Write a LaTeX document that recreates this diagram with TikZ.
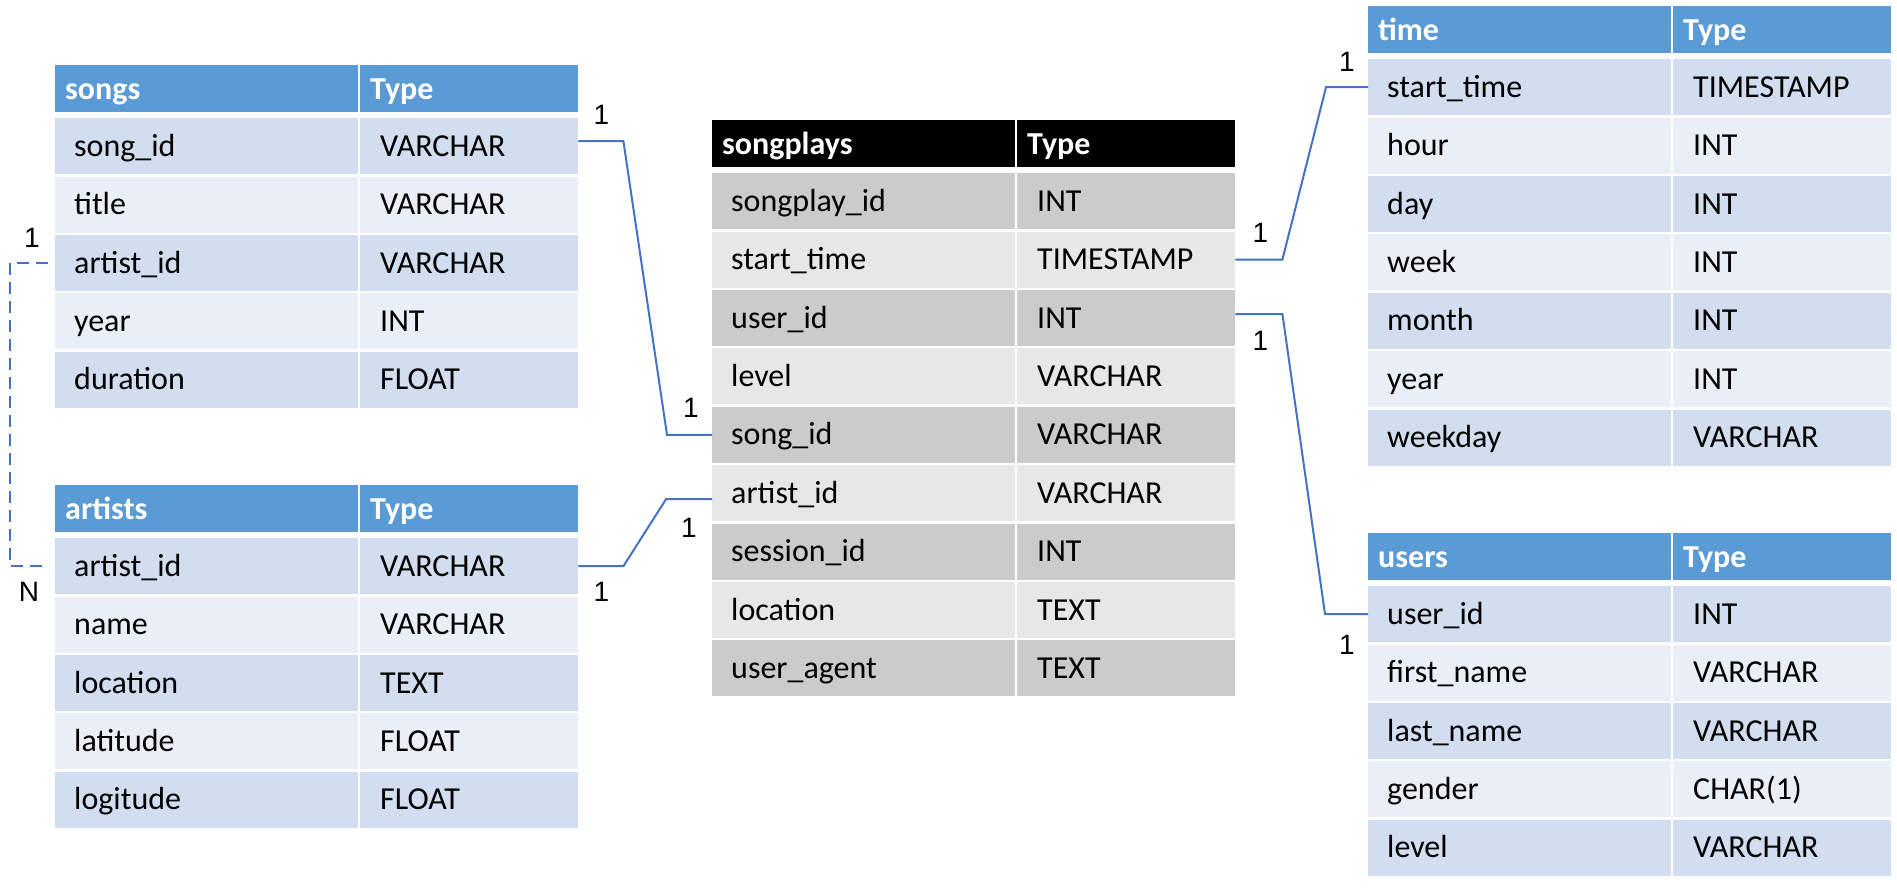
\documentclass[tikz,border=0pt]{standalone}
\usepackage{fontspec}
\setmainfont{Carlito}
\newfontfamily\cardfamily{Liberation Sans}
\usetikzlibrary{positioning}
\definecolor{bluehead}{HTML}{5B9BD5}
\definecolor{bluerow1}{HTML}{D2DEEF}
\definecolor{bluerow0}{HTML}{EAEFF7}
\definecolor{greyhead}{HTML}{000000}
\definecolor{greyrow1}{HTML}{CBCBCB}
\definecolor{greyrow0}{HTML}{E7E7E7}
\definecolor{linkblue}{HTML}{4472C4}
\tikzset{
	cell/.style={rectangle, inner sep=0pt, anchor=north west, minimum height=56pt},
	headcell/.style={cell, minimum height=47pt},
	namew/.style={minimum width=303pt},
	typew/.style={minimum width=218pt},
	celltext/.style={anchor=base west, inner sep=0pt, font=\fontsize{32}{38}\selectfont},
	headtext/.style={celltext, font=\fontsize{32}{38}\selectfont\bfseries, text=white},
	link/.style={draw=linkblue, line width=2pt},
	card/.style={inner sep=0pt, font=\cardfamily\fontsize{28}{32}\selectfont},
}
\newcommand{\drawtable}[6]{% x, y, name, title, colours, rows
	\pgfmathsetmacro{\xb}{#1+305}
	\node[headcell, namew, fill=#5head] (#3-0-a) at (#1, #2) {};
	\node[headcell, typew, fill=#5head] (#3-0-b) at (\xb, #2) {};
	\node[headtext] at ([xshift=10pt, yshift=-11pt]#3-0-a.west) {#4};
	\node[headtext] at ([xshift=10pt, yshift=-11pt]#3-0-b.west) {Type};

	\foreach \fname/\ftype [count=\i] in {#6}
	{
		\pgfmathsetmacro{\ytop}{#2+53+(\i-1)*58.4}
		\pgfmathtruncatemacro{\rowtone}{mod(\i,2)}
		\node[cell, namew, fill=#5row\rowtone] (#3-\i-a) at (#1, \ytop) {};
		\node[cell, typew, fill=#5row\rowtone] (#3-\i-b) at (\xb, \ytop) {};
		\node[celltext] at ([xshift=19pt, yshift=-10pt]#3-\i-a.west) {\fname};
		\node[celltext] at ([xshift=20pt, yshift=-10pt]#3-\i-b.west) {\ftype};
	}
}
\begin{document}
\begin{tikzpicture}[x=1pt, y=-1pt]
\useasboundingbox (0,0) rectangle (1897,889);

\drawtable{55}{65}{songs}{songs}{blue}{song\_id/VARCHAR, title/VARCHAR, artist\_id/VARCHAR, year/INT, duration/FLOAT}
\drawtable{55}{485}{artists}{artists}{blue}{artist\_id/VARCHAR, name/VARCHAR, location/TEXT, latitude/FLOAT, logitude/FLOAT}
\drawtable{712}{120}{songplays}{songplays}{grey}{songplay\_id/INT, start\_time/TIMESTAMP, user\_id/INT, level/VARCHAR, song\_id/VARCHAR, artist\_id/VARCHAR, session\_id/INT, location/TEXT, user\_agent/TEXT}
\drawtable{1368}{6}{time}{time}{blue}{start\_time/TIMESTAMP, hour/INT, day/INT, week/INT, month/INT, year/INT, weekday/VARCHAR}
\drawtable{1368}{533}{users}{users}{blue}{user\_id/INT, first\_name/VARCHAR, last\_name/VARCHAR, gender/CHAR(1), level/VARCHAR}

% relations
\draw[link] ([yshift=5pt]songs-1-b.east) -- ++(45,0) -- ([xshift=-45pt]songplays-5-a.west) -- (songplays-5-a.west);
\draw[link] (artists-1-b.east) -- ++(45,0) -- ([xshift=-46pt, yshift=-6pt]songplays-6-a.west) -- ([yshift=-6pt]songplays-6-a.west);
\draw[link] (songplays-2-b.east) -- ++(47,0) -- ([xshift=-42pt]time-1-a.west) -- (time-1-a.west);
\draw[link] ([yshift=4pt]songplays-3-b.east) -- ++(47,0) -- ([xshift=-43pt]users-1-a.west) -- (users-1-a.west);
\draw[link, dash pattern=on 12pt off 7pt] ([xshift=-7pt]songs-3-a.west) -- ++(-38,0) |- ([xshift=-7pt]artists-1-a.west);

\node[card] (c1) at ([xshift=23pt, yshift=31pt]songs-1-b.east) {1};
\node[card] (c2) at ([xshift=-21pt, yshift=27pt]songplays-5-a.west) {1};
\node[card] (c3) at ([xshift=23pt, yshift=-26pt]artists-1-b.east) {1};
\node[card] (c4) at ([xshift=-23pt, yshift=-35pt]songplays-6-a.west) {1};
\node[card] (c5) at ([xshift=25pt, yshift=27pt]songplays-2-b.east) {1};
\node[card] (c6) at ([xshift=-21pt, yshift=25pt]time-1-a.west) {1};
\node[card] (c7) at ([xshift=25pt, yshift=-23pt]songplays-3-b.east) {1};
\node[card] (c8) at ([xshift=-21pt, yshift=-31pt]users-1-a.west) {1};
\node[card] (c9) at ([xshift=-23pt, yshift=25pt]songs-3-a.west) {1};
\node[card] (c10) at ([xshift=-26pt, yshift=-26pt]artists-1-a.west) {N};
\end{tikzpicture}
\end{document}
